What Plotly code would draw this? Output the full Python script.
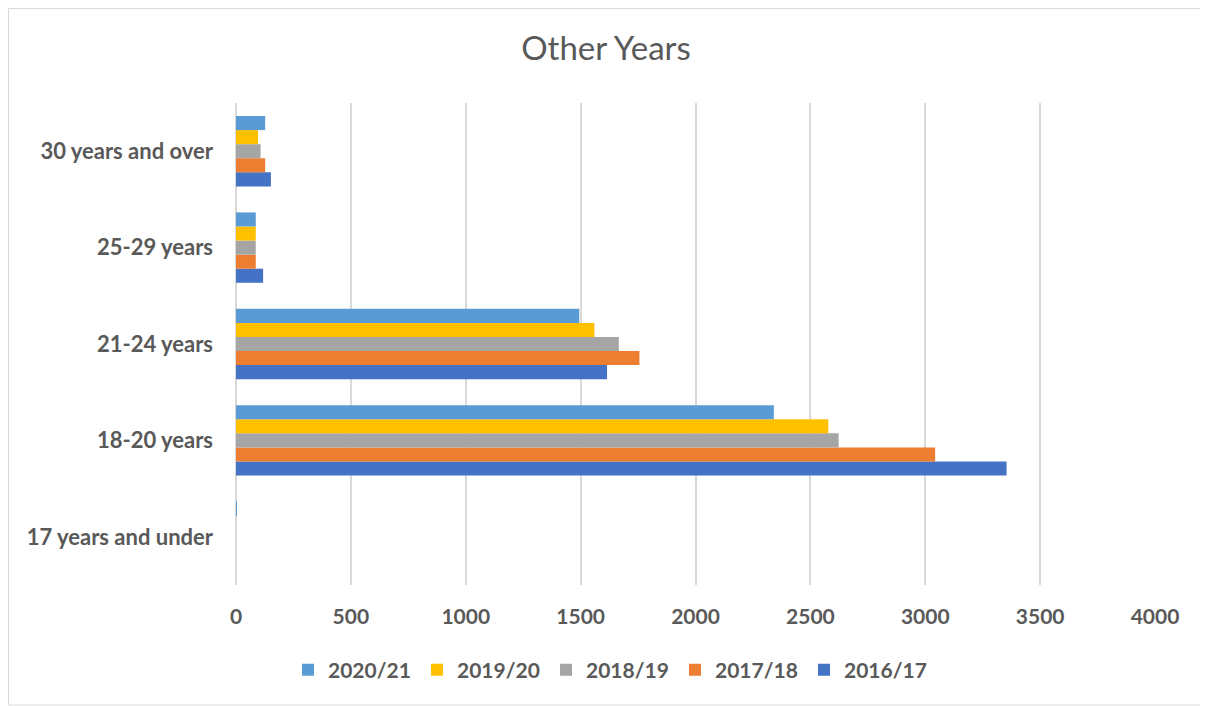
import plotly.graph_objects as go

categories = ["17 years and under", "18-20 years", "21-24 years", "25-29 years", "30 years and over"]
series_names = ["2016/17", "2017/18", "2018/19", "2019/20", "2020/21"]
values_2016_17 = [0, 3354, 1615, 118, 152]
values_2017_18 = [0, 3043, 1756, 86, 127]
values_2018_19 = [0, 2623, 1666, 86, 107]
values_2019_20 = [0, 2578, 1560, 86, 96]
values_2020_21 = [3, 2341, 1494, 86, 127]
x_ticks = [0, 500, 1000, 1500, 2000, 2500, 3000, 3500, 4000]

colors = {"2016/17": "#4472C4", "2017/18": "#ED7D31", "2018/19": "#A5A5A5",
          "2019/20": "#FFC000", "2020/21": "#5B9BD5"}
all_values = [values_2016_17, values_2017_18, values_2018_19, values_2019_20, values_2020_21]

fig = go.Figure()
for name, vals in zip(series_names, all_values):
    fig.add_trace(go.Bar(y=categories, x=vals, name=name, orientation="h",
                         marker=dict(color=colors[name], line=dict(width=0))))

# page is offset by the 8px body margin, so figure coords = page coords - 8
W, H = 1200, 698
L, R, T, B = 228, 53, 95, 121
pw, ph = W - L - R, H - T - B

def px2x(px):
    return (px - L) / pw

def py2y(py):
    return (H - B - py) / ph

font_family = "Lato, 'Open Sans', sans-serif"
fig.update_layout(
    width=W, height=H,
    margin=dict(l=L, r=R, t=T, b=B),
    paper_bgcolor="white", plot_bgcolor="white",
    barmode="group", bargap=0.27, bargroupgap=0,
    title=dict(text="Other Years", x=(606 - 8) / W, xref="container", xanchor="center",
               y=1 - 40 / H, yref="container", yanchor="middle",
               font=dict(family=font_family, size=33, color="#595959")),
    legend=dict(orientation="h", traceorder="reversed", x=px2x(280), xanchor="left",
                y=py2y(662), yanchor="middle",
                font=dict(family=font_family, size=21, color="#595959", weight="bold"),
                itemwidth=30, entrywidth=84, entrywidthmode="pixels", tracegroupgap=0),
    showlegend=True,
    font=dict(family=font_family, color="#595959"),
)
fig.update_xaxes(range=[0, 4000], tickvals=x_ticks, ticktext=[str(v) for v in x_ticks],
                 showgrid=True, gridcolor="#D9D9D9", gridwidth=1.5,
                 zeroline=True, zerolinecolor="#D9D9D9", zerolinewidth=1.5,
                 showline=False, ticks="", ticklabelstandoff=17,
                 tickfont=dict(family=font_family, size=21, color="#595959", weight="bold"))
fig.update_yaxes(categoryorder="array", categoryarray=categories,
                 showgrid=False, showline=False, ticks="", ticklabelstandoff=22,
                 tickfont=dict(family=font_family, size=22, color="#595959", weight="bold"))

fig.add_shape(type="rect", xref="paper", yref="paper",
              x0=px2x(0.5), x1=px2x(1199), y0=py2y(697), y1=py2y(0.5),
              line=dict(color="#D9D9D9", width=1), fillcolor="rgba(0,0,0,0)", layer="below")

fig.write_html("out.html")
